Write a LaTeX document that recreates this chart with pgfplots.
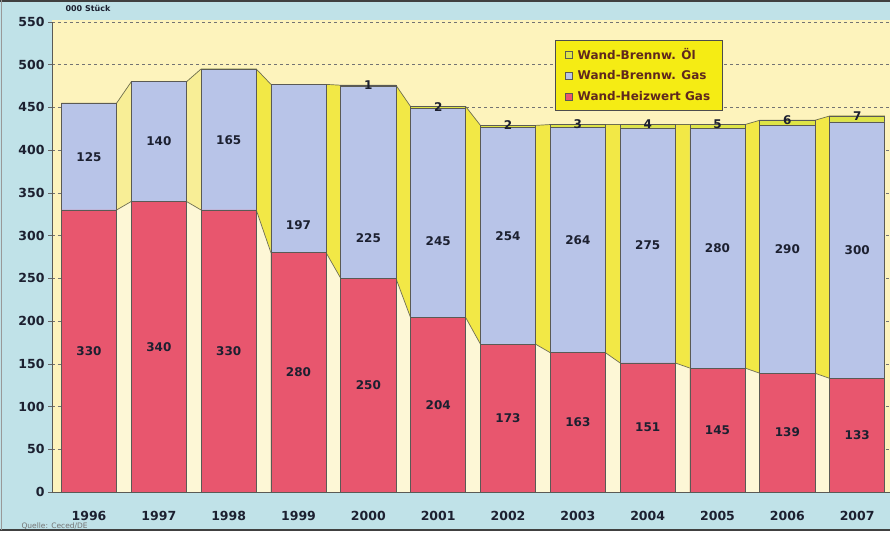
\documentclass[border=0pt]{standalone}
\usepackage{pgfplots}
\pgfplotsset{compat=1.18}
\usepackage{pgfplotstable}
\usepackage{fontspec}
\setmainfont{DejaVu Sans}

\definecolor{redbar}{RGB}{232,86,110}
\definecolor{bluebar}{RGB}{184,196,232}
\definecolor{oilbar}{RGB}{222,228,70}
\definecolor{plotbg}{RGB}{253,243,188}
\definecolor{framecol}{RGB}{192,226,232}
\definecolor{gapbright}{RGB}{242,232,70}
\definecolor{gappale}{RGB}{248,238,150}
\definecolor{gapcream}{RGB}{253,247,214}
\definecolor{edge}{RGB}{90,90,85}
\definecolor{sline}{RGB}{110,110,80}
\definecolor{txt}{RGB}{28,32,48}
\definecolor{legfill}{RGB}{245,236,20}
\definecolor{legtxt}{RGB}{95,40,30}

\pgfplotsset{sqlegend/.style={legend image code/.code={\draw[##1, line width=0.5pt] (0pt,-3.5pt) rectangle (7pt,3.5pt);}}}

\pgfplotstableread{
x red blue oil bl
0 330 125 0 392
1 340 140 0 410
2 330 165 0 412
3 280 197 0 312
4 250 225 1 297
5 204 245 2 293
6 173 254 2 299
7 163 264 3 295
8 151 275 4 289
9 145 280 5 285
10 139 290 6 284
11 133 300 7 283
}\data

\pgfplotstableread{
x red tot
-0.395 330 455
0.395 330 455
0.605 340 480
1.395 340 480
1.605 330 495
2.395 330 495
2.605 280 477
3.395 280 477
3.605 250 476
4.395 250 476
4.605 204 451
5.395 204 451
5.605 173 429
6.395 173 429
6.605 163 430
7.395 163 430
7.605 151 430
8.395 151 430
8.605 145 430
9.395 145 430
9.605 139 435
10.395 139 435
10.605 133 440
11.395 133 440
}\steps

\begin{document}
\begin{tikzpicture}
\fill[white] (0pt,0pt) rectangle (890pt,537pt);
\fill[framecol] (0pt,7pt) rectangle (890pt,537pt);
\draw[black!75, line width=1.2pt] (0pt,7pt) -- (890pt,7pt);
\draw[black!75, line width=1.2pt] (0pt,536pt) -- (890pt,536pt);
\draw[black!40, line width=0.8pt] (1pt,7pt) -- (1pt,537pt);
\fill[plotbg] (52pt,45pt) rectangle (890pt,517pt);

\begin{axis}[
  at={(52pt,45pt)}, anchor=south west,
  scale only axis, width=838pt, height=470pt,
  xmin=-0.53, xmax=11.47, ymin=0, ymax=550,
  axis lines*=left,
  axis line style={draw=edge, line width=0.9pt},
  ytick={0,50,...,550},
  xtick={0,...,11},
  xticklabels={1996,1997,1998,1999,2000,2001,2002,2003,2004,2005,2006,2007},
  ymajorgrids,
  grid style={dashed, draw=black!55, line width=0.5pt},
  tick align=outside,
  major tick length=4pt,
  y tick style={draw=black!60, line width=0.6pt},
  x tick style={draw=none},
  /pgf/number format/assume math mode=true,
  ticklabel style={font=\bfseries\fontsize{12.5}{14}\selectfont, text=txt},
  xticklabel style={yshift=-12pt},
  legend cell align=left,
  legend style={at={(0.600,0.962)}, anchor=north west, fill=legfill,
    draw=black!70, line width=0.8pt, text=legtxt,
    font=\bfseries\fontsize{12}{14}\selectfont,
    inner xsep=10pt, inner ysep=6pt, row sep=6pt, column sep=3pt},
]
% gap areas between the bars
\addplot[draw=none, fill=gapbright, forget plot] table[x=x, y=tot] {\steps} \closedcycle;
\addplot[draw=none, fill=gappale, forget plot, restrict x to domain=-1:2.4] table[x=x, y=tot] {\steps} \closedcycle;
\addplot[draw=none, fill=gapcream, forget plot] table[x=x, y=red] {\steps} \closedcycle;
% series lines
\addplot[sline, line width=0.7pt, forget plot] table[x=x, y=tot] {\steps};
\addplot[sline, line width=0.7pt, forget plot] table[x=x, y=red] {\steps};

% bars (cumulative heights, drawn from back to front)
\addplot[ybar, bar width=0.79, bar shift=0pt, fill=oilbar, draw=edge, line width=0.8pt, sqlegend]
  table[x=x, y expr=\thisrow{red}+\thisrow{blue}+\thisrow{oil}] {\data};
\addlegendentry{Wand-Brennw. Öl}
\addplot[ybar, bar width=0.79, bar shift=0pt, fill=bluebar, draw=edge, line width=0.8pt, sqlegend]
  table[x=x, y expr=\thisrow{red}+\thisrow{blue}] {\data};
\addlegendentry{Wand-Brennw. Gas}
\addplot[ybar, bar width=0.79, bar shift=0pt, fill=redbar, draw=edge, line width=0.8pt, sqlegend]
  table[x=x, y=red] {\data};
\addlegendentry{Wand-Heizwert Gas}

% value labels
\addplot[draw=none, mark=none, forget plot, nodes near coords, point meta=explicit,
  every node near coord/.append style={anchor=center, font=\bfseries\fontsize{12}{14}\selectfont, text=txt}]
  table[x=x, y expr=\thisrow{red}/2, meta=red] {\data};
\addplot[draw=none, mark=none, forget plot, nodes near coords, point meta=explicit,
  every node near coord/.append style={anchor=center, font=\bfseries\fontsize{12}{14}\selectfont, text=txt}]
  table[x=x, y=bl, meta=blue] {\data};
\addplot[draw=none, mark=none, forget plot, nodes near coords, point meta=explicit,
  restrict expr to domain={\thisrow{oil}}{0.5:100},
  every node near coord/.append style={anchor=center, font=\bfseries\fontsize{12}{14}\selectfont, text=txt}]
  table[x=x, y expr=\thisrow{red}+\thisrow{blue}+\thisrow{oil}, meta=oil] {\data};
\end{axis}

\node[anchor=west, font=\bfseries\fontsize{8}{9}\selectfont, text=txt] at (62pt,529pt) {000 Stück};
\node[anchor=west, font=\fontsize{7.5}{9}\selectfont, text=black!55] at (18pt,11pt) {Quelle: Ceced/DE};
\pgfresetboundingbox
\path[use as bounding box] (0pt,0pt) rectangle (890pt,537pt);
\end{tikzpicture}
\end{document}
